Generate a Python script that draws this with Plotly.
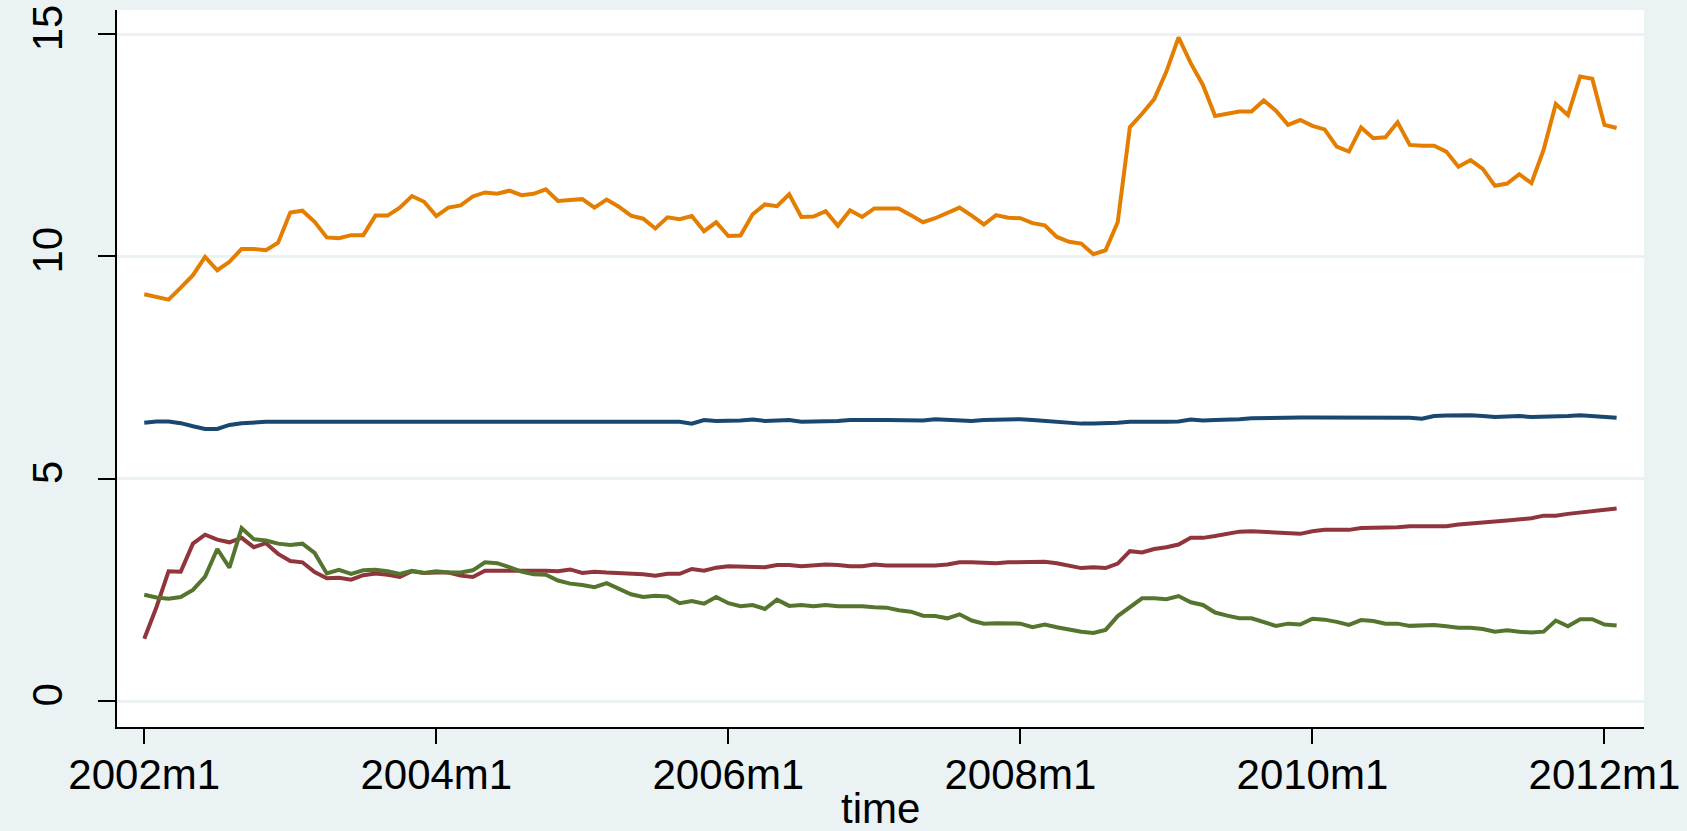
import plotly.graph_objects as go

# Monthly periods, 2002m1 .. 2012m2
periods = [f"{2002 + i // 12}m{i % 12 + 1}" for i in range(122)]
tick_labels = ["2002m1", "2004m1", "2006m1", "2008m1", "2010m1", "2012m1"]
y_ticks = [0, 5, 10, 15]

series_navy = [
    6.26, 6.29, 6.29, 6.25, 6.18, 6.12, 6.12, 6.21, 6.25, 6.27,
    6.28, 6.28, 6.28, 6.28, 6.28, 6.28, 6.28, 6.28, 6.28, 6.28,
    6.28, 6.28, 6.28, 6.28, 6.28, 6.28, 6.28, 6.28, 6.28, 6.28,
    6.28, 6.28, 6.28, 6.28, 6.28, 6.28, 6.28, 6.28, 6.28, 6.28,
    6.28, 6.28, 6.28, 6.28, 6.28, 6.24, 6.32, 6.30, 6.30, 6.31,
    6.33, 6.30, 6.31, 6.32, 6.28, 6.28, 6.28, 6.30, 6.32, 6.31,
    6.32, 6.32, 6.32, 6.32, 6.31, 6.34, 6.33, 6.31, 6.30, 6.32,
    6.33, 6.32, 6.34, 6.32, 6.30, 6.28, 6.25, 6.24, 6.24, 6.24,
    6.26, 6.28, 6.27, 6.28, 6.28, 6.29, 6.33, 6.31, 6.32, 6.32,
    6.34, 6.36, 6.37, 6.36, 6.37, 6.38, 6.38, 6.38, 6.38, 6.38,
    6.38, 6.38, 6.36, 6.36, 6.37, 6.35, 6.41, 6.42, 6.43, 6.43,
    6.41, 6.39, 6.40, 6.41, 6.39, 6.39, 6.39, 6.41, 6.43, 6.41,
    6.39, 6.37,
]

series_maroon = [
    1.40, 2.11, 2.92, 2.91, 3.54, 3.74, 3.63, 3.57, 3.67, 3.46,
    3.55, 3.31, 3.15, 3.12, 2.90, 2.76, 2.77, 2.73, 2.83, 2.87,
    2.84, 2.79, 2.92, 2.88, 2.89, 2.89, 2.82, 2.79, 2.93, 2.93,
    2.95, 2.95, 2.94, 2.93, 2.92, 2.96, 2.88, 2.91, 2.89, 2.88,
    2.85, 2.85, 2.82, 2.86, 2.86, 2.97, 2.93, 3.00, 3.03, 3.03,
    3.03, 3.01, 3.06, 3.06, 3.03, 3.05, 3.07, 3.06, 3.03, 3.03,
    3.07, 3.05, 3.05, 3.05, 3.03, 3.05, 3.07, 3.12, 3.12, 3.10,
    3.10, 3.12, 3.12, 3.12, 3.13, 3.10, 3.04, 2.99, 3.01, 2.99,
    3.09, 3.37, 3.34, 3.42, 3.46, 3.52, 3.67, 3.67, 3.71, 3.76,
    3.81, 3.82, 3.81, 3.79, 3.79, 3.76, 3.82, 3.85, 3.85, 3.85,
    3.89, 3.89, 3.91, 3.91, 3.93, 3.93, 3.94, 3.93, 3.97, 4.00,
    4.02, 4.04, 4.06, 4.09, 4.11, 4.17, 4.17, 4.21, 4.24, 4.27,
    4.29, 4.33,
]

series_green = [
    2.39, 2.33, 2.30, 2.34, 2.50, 2.80, 3.42, 3.00, 3.89, 3.64,
    3.61, 3.54, 3.51, 3.54, 3.33, 2.87, 2.95, 2.86, 2.94, 2.95,
    2.92, 2.86, 2.93, 2.88, 2.92, 2.89, 2.89, 2.94, 3.12, 3.10,
    3.01, 2.91, 2.85, 2.84, 2.71, 2.64, 2.61, 2.56, 2.65, 2.52,
    2.40, 2.34, 2.37, 2.35, 2.20, 2.25, 2.19, 2.34, 2.20, 2.13,
    2.16, 2.07, 2.28, 2.14, 2.16, 2.13, 2.16, 2.13, 2.14, 2.13,
    2.11, 2.10, 2.04, 2.01, 1.92, 1.91, 1.86, 1.95, 1.81, 1.74,
    1.75, 1.75, 1.74, 1.66, 1.72, 1.66, 1.60, 1.56, 1.53, 1.60,
    1.91, 2.10, 2.31, 2.31, 2.29, 2.36, 2.22, 2.16, 1.99, 1.92,
    1.86, 1.86, 1.77, 1.69, 1.74, 1.72, 1.85, 1.83, 1.78, 1.71,
    1.82, 1.80, 1.74, 1.74, 1.69, 1.69, 1.71, 1.68, 1.65, 1.65,
    1.62, 1.56, 1.59, 1.56, 1.54, 1.56, 1.81, 1.68, 1.84, 1.84,
    1.72, 1.70,
]

series_orange = [
    9.15, 9.08, 9.03, 9.30, 9.58, 9.99, 9.69, 9.88, 10.17, 10.17,
    10.14, 10.31, 10.99, 11.03, 10.78, 10.43, 10.41, 10.48, 10.48, 10.92,
    10.92, 11.10, 11.36, 11.23, 10.91, 11.10, 11.15, 11.35, 11.44, 11.41,
    11.48, 11.38, 11.41, 11.51, 11.25, 11.27, 11.29, 11.10, 11.28, 11.12,
    10.92, 10.85, 10.63, 10.88, 10.84, 10.91, 10.57, 10.77, 10.46, 10.47,
    10.95, 11.17, 11.13, 11.40, 10.89, 10.90, 11.02, 10.69, 11.04, 10.89,
    11.08, 11.08, 11.08, 10.93, 10.77, 10.86, 10.99, 11.10, 10.92, 10.72,
    10.93, 10.87, 10.86, 10.75, 10.70, 10.44, 10.33, 10.29, 10.05, 10.14,
    10.77, 12.91, 13.21, 13.54, 14.16, 14.93, 14.35, 13.86, 13.16, 13.21,
    13.26, 13.26, 13.51, 13.28, 12.96, 13.07, 12.94, 12.86, 12.47, 12.36,
    12.90, 12.66, 12.68, 13.02, 12.51, 12.49, 12.49, 12.36, 12.02, 12.17,
    11.97, 11.59, 11.64, 11.85, 11.65, 12.40, 13.43, 13.18, 14.05, 14.00,
    12.96, 12.89,
]

BG = "#eaf2f3"
FONT = "Liberation Sans, Arial, sans-serif"

fig = go.Figure()
for vals, color in [
    (series_navy, "#1a476f"),
    (series_maroon, "#90353b"),
    (series_green, "#55752f"),
    (series_orange, "#e37e00"),
]:
    fig.add_trace(go.Scatter(
        x=periods, y=vals, mode="lines",
        line=dict(color=color, width=4),
        showlegend=False, hoverinfo="skip",
    ))

fig.update_layout(
    width=1687, height=831,
    paper_bgcolor=BG, plot_bgcolor="white",
    margin=dict(l=117, r=43, t=10, b=104, autoexpand=False),
    font=dict(family=FONT, size=42, color="black"),
    showlegend=False,
)

fig.update_xaxes(
    type="category",
    range=[-2.24, 123.25],
    tickmode="array", tickvals=tick_labels, ticktext=tick_labels,
    ticks="outside", ticklen=15, tickwidth=1.5, tickcolor="black",
    ticklabelstandoff=-5,
    showline=True, linecolor="black", linewidth=2,
    showgrid=False, zeroline=False, automargin=False,
    tickfont=dict(size=42),
)

fig.update_yaxes(
    range=[-0.585, 15.545],
    tickmode="array", tickvals=y_ticks,
    ticks="outside", ticklen=17, tickwidth=1.5, tickcolor="black",
    tickangle=-90, ticklabelstandoff=19,
    showline=True, linecolor="black", linewidth=2,
    showgrid=True, gridcolor=BG, gridwidth=3,
    zeroline=False, automargin=False,
    tickfont=dict(size=42),
)

# x-axis title
fig.add_annotation(
    text="time", xref="paper", yref="paper",
    x=0.5, y=-0.113, xanchor="center", yanchor="middle",
    showarrow=False, font=dict(size=42),
)

fig.write_html("out.html")
